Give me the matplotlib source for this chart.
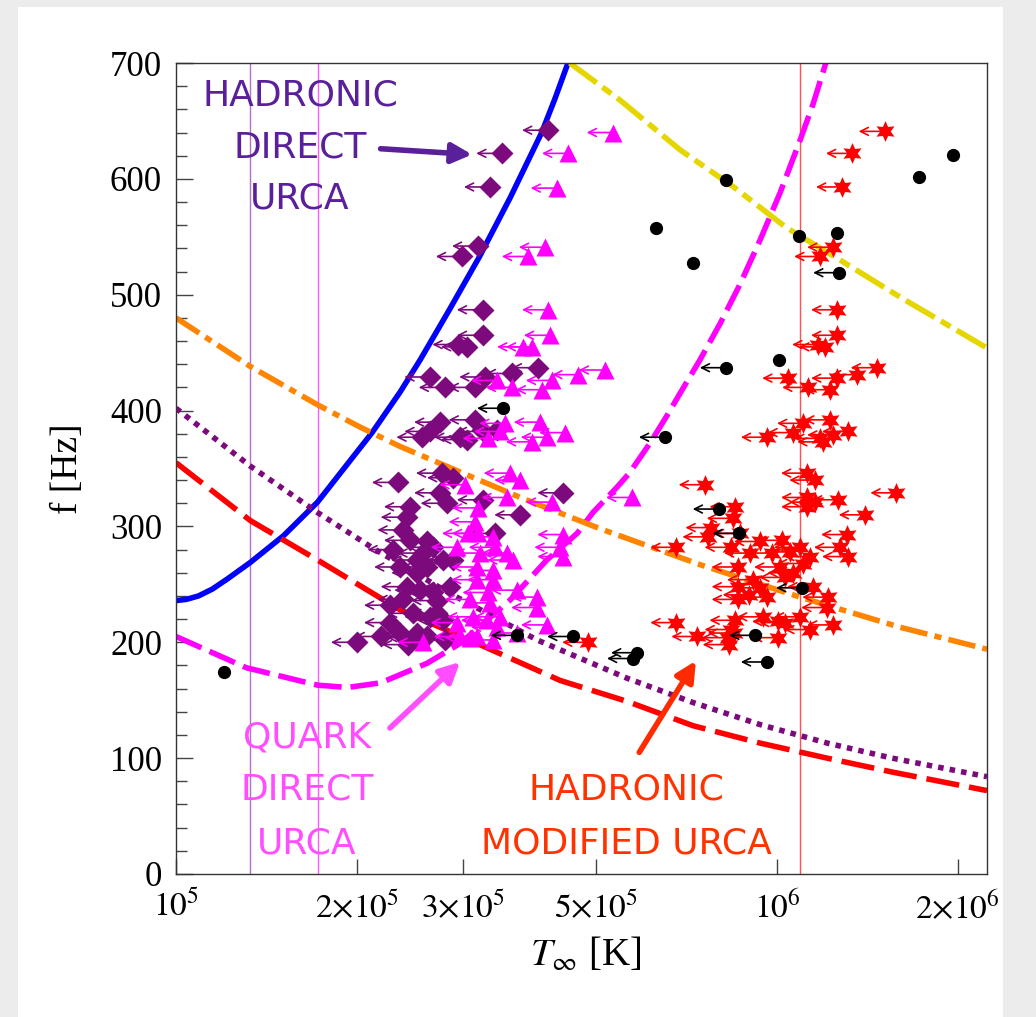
import matplotlib
matplotlib.use('Agg')
import matplotlib.pyplot as plt
import numpy as np
from matplotlib.ticker import FixedLocator, MultipleLocator, NullLocator
from matplotlib.patches import Rectangle

plt.rcParams['mathtext.fontset'] = 'stix'
plt.rcParams['font.family'] = ['Liberation Serif', 'DejaVu Serif']

# temperatures in units of 1e5 K, frequencies in Hz
# theory curves
blue_T = [1.00, 1.04, 1.09, 1.15, 1.22, 1.33, 1.51, 1.72, 2.12, 2.36, 2.55, 2.85, 3.20, 3.60, 4.06, 4.27, 4.49]
blue_f = [236, 237, 240, 246, 255, 269, 292, 321, 381, 416, 444, 487, 533, 584, 640, 669, 700]

mag_T = [1.00, 1.31, 1.72, 1.93, 2.19, 2.62, 2.97, 3.59, 4.14, 4.65, 4.94, 5.42,
         5.68, 6.15, 6.55, 6.90, 7.45, 8.04, 8.68, 9.37, 10.12, 10.92, 11.49, 12.06]
mag_f = [205, 178, 163, 161, 165, 182, 199, 236, 271, 294, 312, 334,
         346, 372, 395, 415, 444, 475, 509, 547, 588, 633, 665, 700]

yel_T = [4.52, 5.48, 6.90, 8.47, 10.36, 12.73, 16.02, 22.36]
yel_f = [700, 668, 625, 593, 558, 530, 498, 454]

org_T = [1.00, 1.33, 1.72, 2.02, 2.36, 2.97, 3.74, 5.08, 7.45, 10.92, 16.02, 22.36]
org_f = [480, 438, 405, 386, 369, 347, 325, 298, 267, 239, 213, 194]

pur_T = [1.00, 1.33, 1.72, 2.13, 2.86, 3.99, 5.63, 7.25, 9.37, 12.12, 15.55, 22.36]
pur_f = [402, 352, 312, 281, 242, 202, 169, 148, 129, 113, 100, 84]

red_T = [1.00, 1.33, 1.72, 2.36, 3.17, 4.36, 5.63, 7.25, 9.37, 12.12, 15.55, 22.36]
red_f = [355, 305, 271, 228, 199, 167, 149, 128, 113, 100, 88, 72]

vline_T = [1.327, 1.723, 10.92]

# data points (all coloured ones are upper limits on T)
diamond_T = [4.16, 3.49, 3.33, 3.18, 2.99, 3.24, 3.24, 2.95, 3.05, 4.00,
             3.62, 3.27, 3.14, 2.80, 2.65, 2.75, 2.65, 2.57, 3.14, 2.97,
             3.05, 3.24, 3.42, 2.77, 2.89, 2.34, 2.75, 2.82, 3.24, 4.41,
             3.74, 3.39, 2.45, 2.42, 2.39, 2.45, 2.62, 2.52, 2.68, 2.78,
             2.89, 2.36, 2.52, 2.62, 2.42, 2.55, 2.68, 2.86, 2.39, 2.48,
             2.65, 2.78, 2.27, 2.36, 2.52, 2.62, 2.19, 2.00, 2.72, 2.48,
             2.30, 2.72, 2.58, 2.27, 2.80, 2.43]
diamond_f = [642, 622, 593, 542, 533, 487, 465, 457, 455, 437,
             432, 429, 420, 420, 429, 390, 382, 377, 392, 377,
             375, 382, 383, 346, 342, 338, 329, 320, 323, 329,
             310, 294, 317, 308, 297, 288, 287, 271, 282, 271,
             271, 265, 260, 265, 248, 245, 243, 248, 237, 225,
             222, 219, 217, 208, 208, 205, 205, 200, 225, 204,
             280, 236, 277, 232, 202, 198]

tri_T = [5.33, 4.49, 4.30, 4.11, 3.85, 4.16, 4.19, 3.78, 3.91, 5.17,
         4.67, 4.22, 4.06, 3.62, 3.42, 3.53, 4.03, 4.44, 4.14, 3.91,
         3.46, 3.31, 3.59, 3.74, 3.03, 3.56, 4.22, 3.18, 3.14, 3.06,
         3.18, 3.37, 3.39, 2.93, 3.21, 3.56, 3.64, 4.41, 4.36, 4.41,
         3.17, 3.37, 3.17, 3.37, 3.69, 3.31, 3.99, 3.09, 3.33, 3.99,
         4.14, 3.46, 3.29, 3.12, 2.93, 3.17, 2.97, 3.69, 3.37, 2.58,
         3.42, 3.09, 5.74]
tri_f = [640, 622, 592, 541, 533, 487, 465, 455, 455, 435,
         431, 426, 418, 420, 426, 389, 390, 381, 377, 373,
         382, 376, 346, 340, 336, 325, 321, 316, 304, 294,
         294, 291, 282, 282, 277, 277, 271, 293, 282, 274,
         265, 262, 254, 254, 245, 243, 239, 237, 234, 230,
         215, 222, 219, 222, 217, 205, 205, 208, 202, 200,
         213, 204, 325]

star_T = [15.11, 13.33, 12.83, 12.40, 11.80, 12.59, 12.59, 11.71, 12.03, 14.65,
          13.59, 12.59, 10.44, 11.27, 12.26, 12.26, 11.05, 10.65, 9.62, 13.13,
          12.40, 11.80, 11.94, 11.22, 11.58, 11.22, 12.64, 11.58, 11.22, 15.80,
          14.00, 13.08, 12.73, 13.13, 7.58, 8.53, 8.44, 7.78, 8.68, 7.69,
          6.80, 8.37, 9.37, 10.20, 10.92, 9.02, 9.81, 10.52, 11.36, 11.05,
          8.60, 10.12, 10.65, 10.32, 9.12, 8.60, 9.37, 9.62, 8.97, 8.60,
          11.49, 12.17, 12.12, 10.92, 12.40, 9.48, 10.04, 10.32, 8.53, 6.80,
          11.36, 8.37, 7.37, 8.28, 10.04, 8.31, 4.85, 8.47]
star_f = [641, 622, 593, 541, 533, 487, 465, 457, 455, 437,
          431, 428, 428, 420, 418, 392, 389, 381, 377, 382,
          379, 376, 373, 346, 340, 325, 323, 321, 317, 329,
          310, 293, 282, 274, 336, 317, 307, 299, 294, 291,
          282, 282, 287, 288, 282, 277, 277, 278, 274, 268,
          265, 265, 260, 256, 254, 248, 247, 239, 241, 237,
          248, 239, 230, 222, 215, 222, 218, 217, 219, 217,
          211, 211, 205, 204, 204, 198, 200, 208]

dot_T = [8.22, 6.29, 7.26, 10.88, 12.59, 10.08, 19.6, 17.2, 1.20]
dot_f = [599, 558, 527, 551, 553, 444, 621, 602, 174]

dotul_T = [12.69, 8.22, 3.50, 6.51, 8.00, 8.63, 11.01, 9.20, 9.62, 5.85, 5.76, 4.58, 3.69]
dotul_f = [519, 437, 402, 377, 315, 294, 247, 206, 183, 191, 186, 205, 206]

xtick_vals = [1e5, 2e5, 3e5, 5e5, 1e6, 2e6]
xtick_labels = [r'$10^5$', r'$2{\times}10^5$', r'$3{\times}10^5$',
                r'$5{\times}10^5$', r'$10^6$', r'$2{\times}10^6$']

PURPLE = '#7d0a7d'
MAGENTA = '#ff00ff'

fig = plt.figure(figsize=(10.36, 10.17), dpi=100, facecolor='#ececec')
fig.patches.append(Rectangle((18/1036, 0), 985/1036, 1 - 7/1017, transform=fig.transFigure,
                             facecolor='white', edgecolor='none', zorder=-5))

ax = fig.add_axes([176/1036, 1 - 874/1017, 811/1036, 811/1017])
ax.set_zorder(2)
ax.set_xscale('log')


def e5(vals):
    return np.array(vals) * 1e5


# vertical reference lines
for t, c in zip(vline_T, ['#b56fc8', '#ff5cff', '#ff5050']):
    ax.axvline(t * 1e5, color=c, lw=1.0, zorder=1)

# theory curves
LW = 4.0
ax.plot(e5(blue_T), blue_f, color='#0000ff', lw=LW, zorder=2)
ax.plot(e5(mag_T), mag_f, color=MAGENTA, lw=LW, ls=(0, (5, 1.6)), zorder=2)
ax.plot(e5(yel_T), yel_f, color='#e6d600', lw=LW, ls=(0, (6, 1.3, 2, 1.3)), zorder=2)
ax.plot(e5(org_T), org_f, color='#ff8400', lw=LW, ls=(0, (5, 1.3, 1.3, 1.3)), zorder=2)
ax.plot(e5(pur_T), pur_f, color=PURPLE, lw=LW, ls=(0, (1, 1.1)), zorder=2)
ax.plot(e5(red_T), red_f, color='#ff0000', lw=LW, ls=(0, (6, 1.8)), zorder=2)


def arrows(T, f, color, z):
    for t, v in zip(T, f):
        ax.annotate('', xy=(t * 1e5 * 0.905, v), xytext=(t * 1e5, v),
                    arrowprops=dict(arrowstyle='->', color=color, lw=1.2,
                                    shrinkA=0, shrinkB=0, mutation_scale=14),
                    zorder=z)


arrows(diamond_T, diamond_f, PURPLE, 3)
ax.plot(e5(diamond_T), diamond_f, 'D', ms=11.5, color=PURPLE, mec='none', zorder=4)
arrows(tri_T, tri_f, MAGENTA, 5)
ax.plot(e5(tri_T), tri_f, '^', ms=13, color=MAGENTA, mec='none', zorder=6)
arrows(star_T, star_f, '#ff0000', 5)
ax.plot(e5(star_T), star_f, marker=(6, 1, 0), ls='none', ms=15, color='#ff0000', mec='none', zorder=6)
arrows(dotul_T, dotul_f, 'black', 7)
ax.plot(e5(dotul_T), dotul_f, 'o', ms=8.5, color='black', zorder=8)
ax.plot(e5(dot_T), dot_f, 'o', ms=8.5, color='black', zorder=8)

# axes setup
ax.set_xlim(1e5, 2.236e6)
ax.set_ylim(0, 700)
ax.xaxis.set_major_locator(FixedLocator(xtick_vals))
ax.xaxis.set_minor_locator(NullLocator())
ax.set_xticklabels(xtick_labels)
ax.yaxis.set_major_locator(MultipleLocator(100))
ax.yaxis.set_minor_locator(MultipleLocator(20))
ax.tick_params(which='both', direction='in', top=False, right=False, color='#444444', width=1)
ax.tick_params(axis='x', which='major', length=11, labelsize=24, pad=12)
ax.tick_params(axis='y', which='major', length=12, labelsize=25, pad=10)
ax.tick_params(axis='y', which='minor', length=8)
for s in ax.spines.values():
    s.set_linewidth(1.0)
    s.set_color('#333333')

ax.set_ylabel('f [Hz]', fontsize=27)
ax.yaxis.set_label_coords(-0.112, 0.5)
fig.text(586/1036, 1 - 956/1017, r'$T_\infty$ [K]', fontsize=28, ha='center', va='center')

# hand-drawn style annotations
hfont = dict(family=['DejaVu Sans'], fontsize=26, ha='center', va='center')
for txt, yy in zip(['HADRONIC', 'DIRECT', 'URCA'], [0.9605, 0.8964, 0.8335]):
    ax.text(0.153, yy, txt, color='#5a1f9a', transform=ax.transAxes, zorder=9, **hfont)
for txt, yy in zip(['QUARK', 'DIRECT', 'URCA'], [0.1677, 0.1036, 0.0382]):
    ax.text(0.1615, yy, txt, color='#ff4dff', transform=ax.transAxes, zorder=9, **hfont)
for txt, yy in zip(['HADRONIC', 'MODIFIED URCA'], [0.1036, 0.0382]):
    ax.text(0.556, yy, txt, color='#ff3300', transform=ax.transAxes, zorder=9, **hfont)

arr = dict(arrowstyle='-|>', lw=4, mutation_scale=30, shrinkA=0, shrinkB=0)
ax.annotate('', xy=(3.11e5, 621), xytext=(2.19e5, 626),
            arrowprops=dict(color='#5a1f9a', **arr), zorder=9)
ax.annotate('', xy=(2.97e5, 183), xytext=(2.27e5, 126),
            arrowprops=dict(color='#ff4dff', **arr), zorder=9)
ax.annotate('', xy=(7.33e5, 184), xytext=(5.9e5, 105),
            arrowprops=dict(color='#ff2a00', **arr), zorder=9)

fig.savefig('out.png', dpi=100, facecolor=fig.get_facecolor())
